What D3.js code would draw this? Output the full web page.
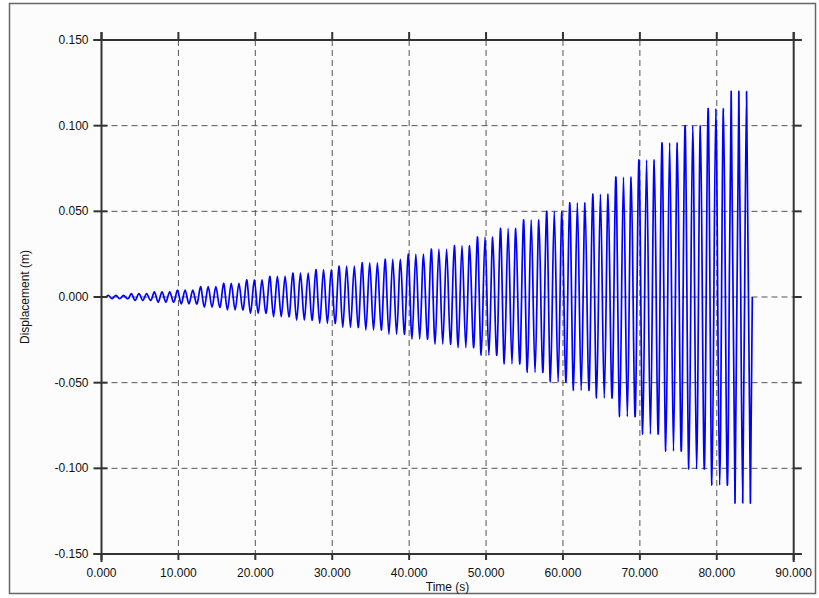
<!DOCTYPE html>
<html>
<head>
<meta charset="utf-8">
<script src="https://cdn.jsdelivr.net/npm/d3@7/dist/d3.min.js"></script>
<style>
  html, body { margin: 0; padding: 0; background: #ffffff; }
  svg { display: block; }
  .ticklabel, .axistitle { font-family: "Liberation Sans", Arial, sans-serif; font-size: 12px; fill: #111; }
</style>
</head>
<body>
<div id="chart"></div>
<script>
// ---- Data ----
// Loading steps: each step holds its amplitude for 3 cycles
const positiveAmplitudes = [0.001, 0.002, 0.003, 0.004, 0.006, 0.008, 0.010, 0.012, 0.014, 0.016,
  0.018, 0.020, 0.022, 0.025, 0.028, 0.030, 0.035, 0.040, 0.045, 0.050,
  0.055, 0.060, 0.070, 0.080, 0.090, 0.100, 0.110, 0.120];
const negativeAmplitudes = [0.001, 0.002, 0.003, 0.004, 0.006, 0.0075, 0.0095, 0.0115, 0.0135, 0.0154,
  0.0178, 0.0193, 0.0217, 0.0246, 0.0275, 0.0295, 0.034, 0.039, 0.044, 0.0496,
  0.0545, 0.059, 0.0698, 0.080, 0.090, 0.1004, 0.1098, 0.1203];
const cyclesPerStep = 3;
const signalStart = 0.62;   // s, first upward zero crossing
const period = 1.0;         // s

const xTicks = [0, 10, 20, 30, 40, 50, 60, 70, 80, 90];
const yTicks = [-0.15, -0.10, -0.05, 0, 0.05, 0.10, 0.15];

// ---- Layout ----
const width = 819, height = 598;
const plotLeft = 101.5, plotRight = 793.7, plotTop = 40, plotBottom = 554;
const axisOver = 8;

const svg = d3.select("#chart").append("svg")
  .attr("width", width)
  .attr("height", height);

// outer frame
svg.append("rect")
  .attr("x", 9.5).attr("y", 3.5)
  .attr("width", 806).attr("height", 590)
  .attr("fill", "#fcfcfc")
  .attr("stroke", "#666")
  .attr("stroke-width", 1.5);

const x = d3.scaleLinear().domain([0, 90]).range([plotLeft, plotRight]);
const y = d3.scaleLinear().domain([-0.15, 0.15]).range([plotBottom, plotTop]);

// ---- Grid ----
const grid = svg.append("g").attr("class", "grid");
xTicks.slice(1, -1).forEach(t => {
  grid.append("line")
    .attr("x1", x(t)).attr("x2", x(t))
    .attr("y1", plotTop).attr("y2", plotBottom)
    .attr("stroke", "#555").attr("stroke-width", 1)
    .attr("stroke-dasharray", "6,4");
});
yTicks.slice(1, -1).forEach(v => {
  grid.append("line")
    .attr("x1", plotLeft).attr("x2", plotRight)
    .attr("y1", y(v)).attr("y2", y(v))
    .attr("stroke", "#555").attr("stroke-width", 1)
    .attr("stroke-dasharray", "6,4");
});

// ---- Signal ----
const points = [];
positiveAmplitudes.forEach((ampPos, i) => {
  const ampNeg = negativeAmplitudes[i];
  for (let c = 0; c < cyclesPerStep; c++) {
    const t0 = signalStart + (i * cyclesPerStep + c) * period;
    if (points.length === 0) points.push([t0, 0]);
    points.push([t0 + period * 0.25, ampPos]);
    points.push([t0 + period * 0.5, 0]);
    points.push([t0 + period * 0.75, -ampNeg]);
    points.push([t0 + period, 0]);
  }
});

const line = d3.line()
  .x(d => x(d[0]))
  .y(d => y(d[1]))
  .curve(d3.curveNatural);

svg.append("path")
  .datum(points)
  .attr("d", line)
  .attr("fill", "none")
  .attr("stroke", "#0000ff")
  .attr("stroke-width", 1.7)
  .attr("stroke-linejoin", "round");

// ---- Axes ----
const axisColor = "#333";
const axes = svg.append("g").attr("class", "axes")
  .attr("stroke", axisColor).attr("stroke-width", 2);

// frame lines, extended a little past the corners
axes.append("line").attr("x1", plotLeft - axisOver).attr("x2", plotRight + axisOver)
  .attr("y1", plotBottom).attr("y2", plotBottom);
axes.append("line").attr("x1", plotLeft - axisOver).attr("x2", plotRight + axisOver)
  .attr("y1", plotTop).attr("y2", plotTop);
axes.append("line").attr("x1", plotLeft).attr("x2", plotLeft)
  .attr("y1", plotTop - axisOver).attr("y2", plotBottom + axisOver);
axes.append("line").attr("x1", plotRight).attr("x2", plotRight)
  .attr("y1", plotTop - axisOver).attr("y2", plotBottom + axisOver);

// tick marks, pointing outwards
xTicks.forEach(t => {
  axes.append("line").attr("x1", x(t)).attr("x2", x(t))
    .attr("y1", plotBottom).attr("y2", plotBottom + 6);
  axes.append("line").attr("x1", x(t)).attr("x2", x(t))
    .attr("y1", plotTop - axisOver).attr("y2", plotTop);
});
yTicks.forEach(v => {
  axes.append("line").attr("x1", plotLeft - axisOver).attr("x2", plotLeft + 6)
    .attr("y1", y(v)).attr("y2", y(v));
  axes.append("line").attr("x1", plotRight).attr("x2", plotRight + axisOver)
    .attr("y1", y(v)).attr("y2", y(v));
});

// tick labels
const fmt = d3.format(".3f");
xTicks.forEach(t => {
  svg.append("text")
    .attr("class", "ticklabel")
    .attr("x", x(t))
    .attr("y", plotBottom + 23)
    .attr("text-anchor", "middle")
    .text(fmt(t));
});
yTicks.forEach(v => {
  svg.append("text")
    .attr("class", "ticklabel")
    .attr("x", plotLeft - 13)
    .attr("y", y(v))
    .attr("text-anchor", "end")
    .attr("dominant-baseline", "central")
    .text(fmt(v).replace("\u2212", "-"));
});

// axis titles
svg.append("text")
  .attr("class", "axistitle")
  .attr("x", (plotLeft + plotRight) / 2)
  .attr("y", 591)
  .attr("text-anchor", "middle")
  .text("Time (s)");

svg.append("text")
  .attr("class", "axistitle")
  .attr("transform", `translate(29,${(plotTop + plotBottom) / 2}) rotate(-90)`)
  .attr("text-anchor", "middle")
  .text("Displacement (m)");
</script>
</body>
</html>
